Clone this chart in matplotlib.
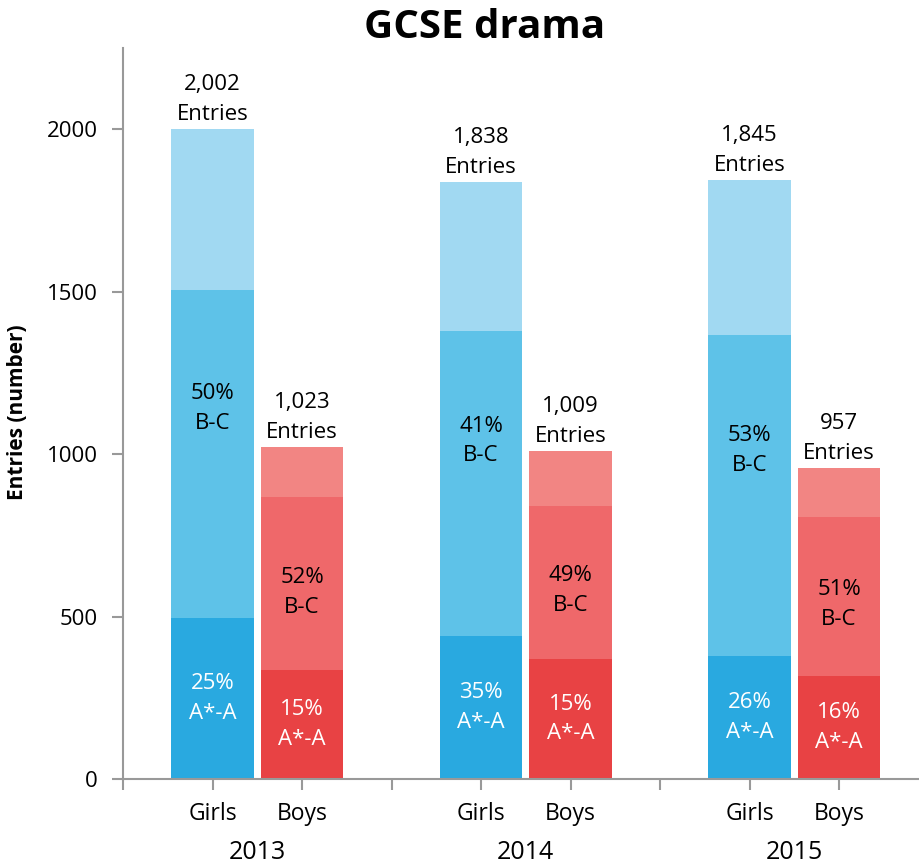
import numpy as np
import matplotlib
matplotlib.use("Agg")
import matplotlib.pyplot as plt
from matplotlib.transforms import blended_transform_factory

plt.rcParams["font.family"] = ["Open Sans", "DejaVu Sans"]

years = ["2013", "2014", "2015"]
groups = ["Girls", "Boys"]

# entries by grade band (number)
girls_astar_a = [495, 440, 378]
girls_b_c = [1010, 938, 988]
girls_total = [2002, 1838, 1845]
boys_astar_a = [335, 369, 317]
boys_b_c = [533, 471, 489]
boys_total = [1023, 1009, 957]

girls_astar_pct = ["25%", "35%", "26%"]
girls_bc_pct = ["50%", "41%", "53%"]
boys_astar_pct = ["15%", "15%", "16%"]
boys_bc_pct = ["52%", "49%", "51%"]

BLUE = ["#29a9e0", "#5ec2e8", "#a1d9f2"]
RED = ["#e84244", "#ef686a", "#f28583"]


def stacked(ax, x, low, mid, total, colors):
    rest = total - low - mid
    ax.bar(x, low, width=0.92, color=colors[0], linewidth=0)
    ax.bar(x, mid, width=0.92, bottom=low, color=colors[1], linewidth=0)
    ax.bar(x, rest, width=0.92, bottom=low + mid, color=colors[2], linewidth=0)


fig = plt.figure(figsize=(9.2, 8.67), dpi=100)
ax = fig.add_axes([123/920, 1 - 779/867, 1 - 123/920, (779 - 48)/867])

xg = np.array([1, 4, 7])
xb = xg + 1
gl, gm, gt = map(np.array, (girls_astar_a, girls_b_c, girls_total))
bl, bm, bt = map(np.array, (boys_astar_a, boys_b_c, boys_total))
stacked(ax, xg, gl, gm, gt, BLUE)
stacked(ax, xb, bl, bm, bt, RED)

fs = 16
ls = 1.55
for i in range(3):
    ax.text(xg[i], gl[i]*0.5, girls_astar_pct[i] + "\nA*-A", ha="center", va="center",
            color="white", fontsize=fs, linespacing=ls)
    ax.text(xb[i], bl[i]*0.5, boys_astar_pct[i] + "\nA*-A", ha="center", va="center",
            color="white", fontsize=fs, linespacing=ls)
    ax.text(xg[i], gl[i] + gm[i]*0.64, girls_bc_pct[i] + "\nB-C", ha="center", va="center",
            color="black", fontsize=fs, linespacing=ls)
    ax.text(xb[i], bl[i] + bm[i]*0.45, boys_bc_pct[i] + "\nB-C", ha="center", va="center",
            color="black", fontsize=fs, linespacing=ls)
    ax.text(xg[i], gt[i] + 12, "{:,}\nEntries".format(gt[i]), ha="center", va="bottom",
            color="black", fontsize=fs, linespacing=ls)
    ax.text(xb[i], bt[i] + 12, "{:,}\nEntries".format(bt[i]), ha="center", va="bottom",
            color="black", fontsize=fs, linespacing=ls)

ax.set_xlim(0, 8.905)
ax.set_ylim(0, 2250)
ax.set_yticks([0, 500, 1000, 1500, 2000])
ax.set_xticks(np.arange(0, 9))
ax.set_xticklabels([])
ax.tick_params(axis="both", colors="#999999", labelcolor="black", labelsize=16, width=1.5)
ax.tick_params(axis="y", length=8, pad=10)
ax.tick_params(axis="x", length=8)
for side in ["top", "right"]:
    ax.spines[side].set_visible(False)
for side in ["left", "bottom"]:
    ax.spines[side].set_color("#999999")
    ax.spines[side].set_linewidth(1.5)

trans = blended_transform_factory(ax.transData, ax.transAxes)
for i in range(3):
    ax.text(xg[i], -0.048, groups[0], transform=trans, ha="center", va="center", fontsize=16.5)
    ax.text(xb[i], -0.048, groups[1], transform=trans, ha="center", va="center", fontsize=16.5)
    ax.text(xg[i] + 0.5, -0.1, years[i], transform=trans, ha="center", va="center", fontsize=18)

fig.text(18/920, 1 - 412/867, "Entries (number)", rotation=90, ha="center", va="center",
         fontsize=15, fontweight="bold")
fig.text(485/920, 1 - 27/867, "GCSE drama", ha="center", va="center",
         fontsize=29, fontweight="bold")

fig.savefig("out.png", dpi=100)
